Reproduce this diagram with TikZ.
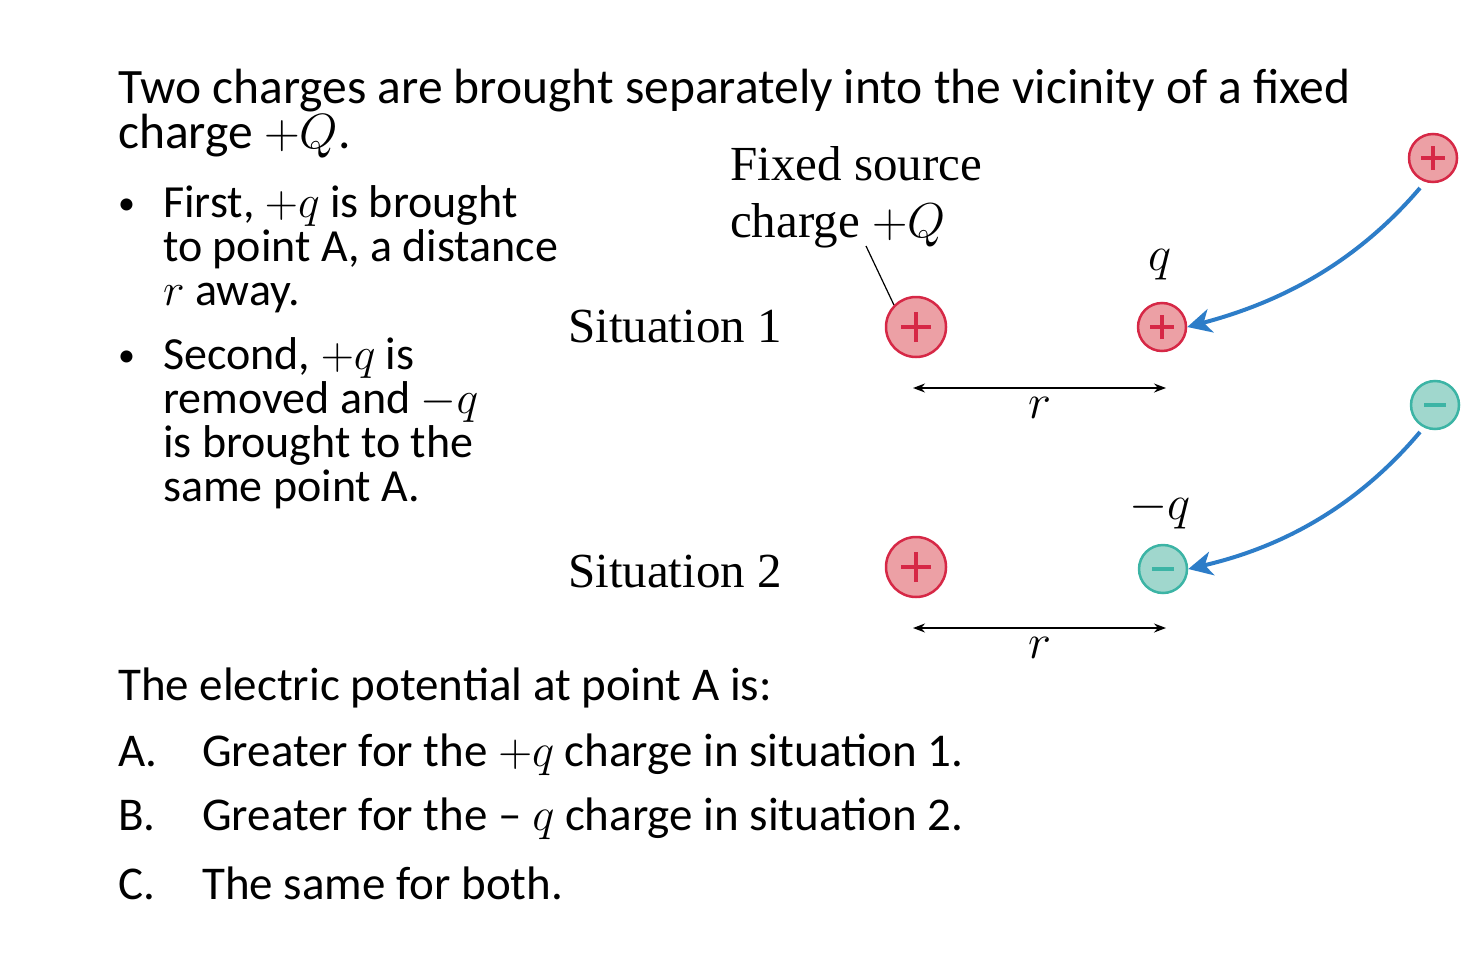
\RequirePackage{fix-cm}
\documentclass[tikz,border=0pt]{standalone}
\usepackage{fontspec}
\setmainfont{Carlito}
\newfontfamily\tms{Liberation Serif}
\usetikzlibrary{arrows.meta}
\definecolor{pfill}{RGB}{236,160,165}
\definecolor{pdraw}{RGB}{214,40,70}
\definecolor{nfill}{RGB}{160,215,205}
\definecolor{ndraw}{RGB}{60,180,165}
\definecolor{blu}{RGB}{45,125,200}
\tikzset{
 txt/.style={anchor=base west,inner sep=0pt,font=\fontsize{47}{52}\selectfont},
 lab/.style={inner sep=0pt,font=\tms\fontsize{49}{57}\selectfont},
 pos/.style={circle,draw=pdraw,fill=pfill,line width=2.5pt,minimum size=#1,inner sep=0pt},
 neg/.style={circle,draw=ndraw,fill=nfill,line width=2.5pt,minimum size=#1,inner sep=0pt},
 dim/.style={{Stealth[length=12pt,width=9pt]}-{Stealth[length=12pt,width=9pt]},line width=1.4pt},
 mv/.style={blu,line width=4pt,-{Stealth[length=24pt,width=24pt,inset=7pt]}}
}
\begin{document}
\begin{tikzpicture}[x=1pt,y=-1pt]
\useasboundingbox (0,0) rectangle (1471,955);
\node[txt,font=\fontsize{49.5}{52}\selectfont] (t1) at (118,103) {Two charges are brought separately into the vicinity of a fixed};
\node[txt,font=\fontsize{49.5}{52}\selectfont] (t2) at (118,148) {charge $+Q$.};
\node[txt,font=\fontsize{34}{40}\selectfont] (d1) at (118,214) {\textbullet};
\node[txt,font=\fontsize{46}{52}\selectfont] (b11) at (163,217) {First, $+q$ is brought};
\node[txt,font=\fontsize{46}{52}\selectfont] (b12) at (163,261) {to point A, a distance};
\node[txt,font=\fontsize{46}{52}\selectfont] (b13) at (163,305) {$r$ away.};
\node[txt,font=\fontsize{34}{40}\selectfont] (d2) at (118,366) {\textbullet};
\node[txt,font=\fontsize{46}{52}\selectfont] (b21) at (163,369) {Second, $+q$ is};
\node[txt,font=\fontsize{46}{52}\selectfont] (b22) at (163,413) {removed and $-q$};
\node[txt,font=\fontsize{46}{52}\selectfont] (b23) at (163,457) {is brought to the};
\node[txt,font=\fontsize{46}{52}\selectfont] (b24) at (163,501) {same point A.};
\node[txt] (qq) at (118,700) {The electric potential at point A is:};
\node[txt] (oa) at (118,766) {A.};
\node[txt] (ta) at (202,766) {Greater for the $+q$ charge in situation 1.};
\node[txt] (ob) at (118,830) {B.};
\node[txt] (tb) at (202,830) {Greater for the -- $q$ charge in situation 2.};
\node[txt] (oc) at (118,899) {C.};
\node[txt] (tc) at (202,899) {The same for both.};
% labels
\node[lab,anchor=base west] (fs) at (730,180) {Fixed source};
\node[lab,anchor=base west] (fc) at (730,237) {charge $+Q$};
\node[lab,anchor=base west] (s1) at (568,342) {Situation 1};
\node[lab,anchor=base west] (s2) at (568,587) {Situation 2};
% charges
\node[pos=60pt] (Q1) at (916,327) {};
\node[pos=48pt] (q1) at (1162,327) {};
\node[pos=48pt] (f1) at (1433,158) {};
\node[pos=60pt] (Q2) at (916,567) {};
\node[neg=48pt] (q2) at (1163,569) {};
\node[neg=48pt] (f2) at (1435,405) {};
\foreach \n/\s in {Q1/15pt,q1/12pt,f1/12pt,Q2/15pt}{
  \draw[pdraw,line width=4pt] ([xshift=-\s]\n.center) -- ([xshift=\s]\n.center);
  \draw[pdraw,line width=4pt] ([yshift=-\s]\n.center) -- ([yshift=\s]\n.center);}
\foreach \n in {q2,f2}{
  \draw[ndraw,line width=4pt] ([xshift=-11pt]\n.center) -- ([xshift=11pt]\n.center);}
\node[lab] (ql) at (1160,265) {$q$};
\node[lab] (nql) at (1160,510) {$-q$};
\coordinate (l0) at (866,246);
\draw[line width=1.2pt] (l0) -- (Q1.north west);
% dimensions
\coordinate (a1) at (913,388); \coordinate (a2) at (1166,388);
\coordinate (c1) at (913,628); \coordinate (c2) at (1166,628);
\draw[dim] (a1) -- (a2);
\draw[dim] (c1) -- (c2);
\node[lab] (r1) at (1040,408) {$r$};
\node[lab] (r2) at (1040,648) {$r$};
% arrows
\draw[mv] ([shift={(-13,30)}]f1.center) .. controls (1350,270) and (1270,305) .. (q1.east);
\draw[mv] ([shift={(-15,27)}]f2.center) .. controls (1350,515) and (1270,550) .. (q2.east);
\end{tikzpicture}
\end{document}
